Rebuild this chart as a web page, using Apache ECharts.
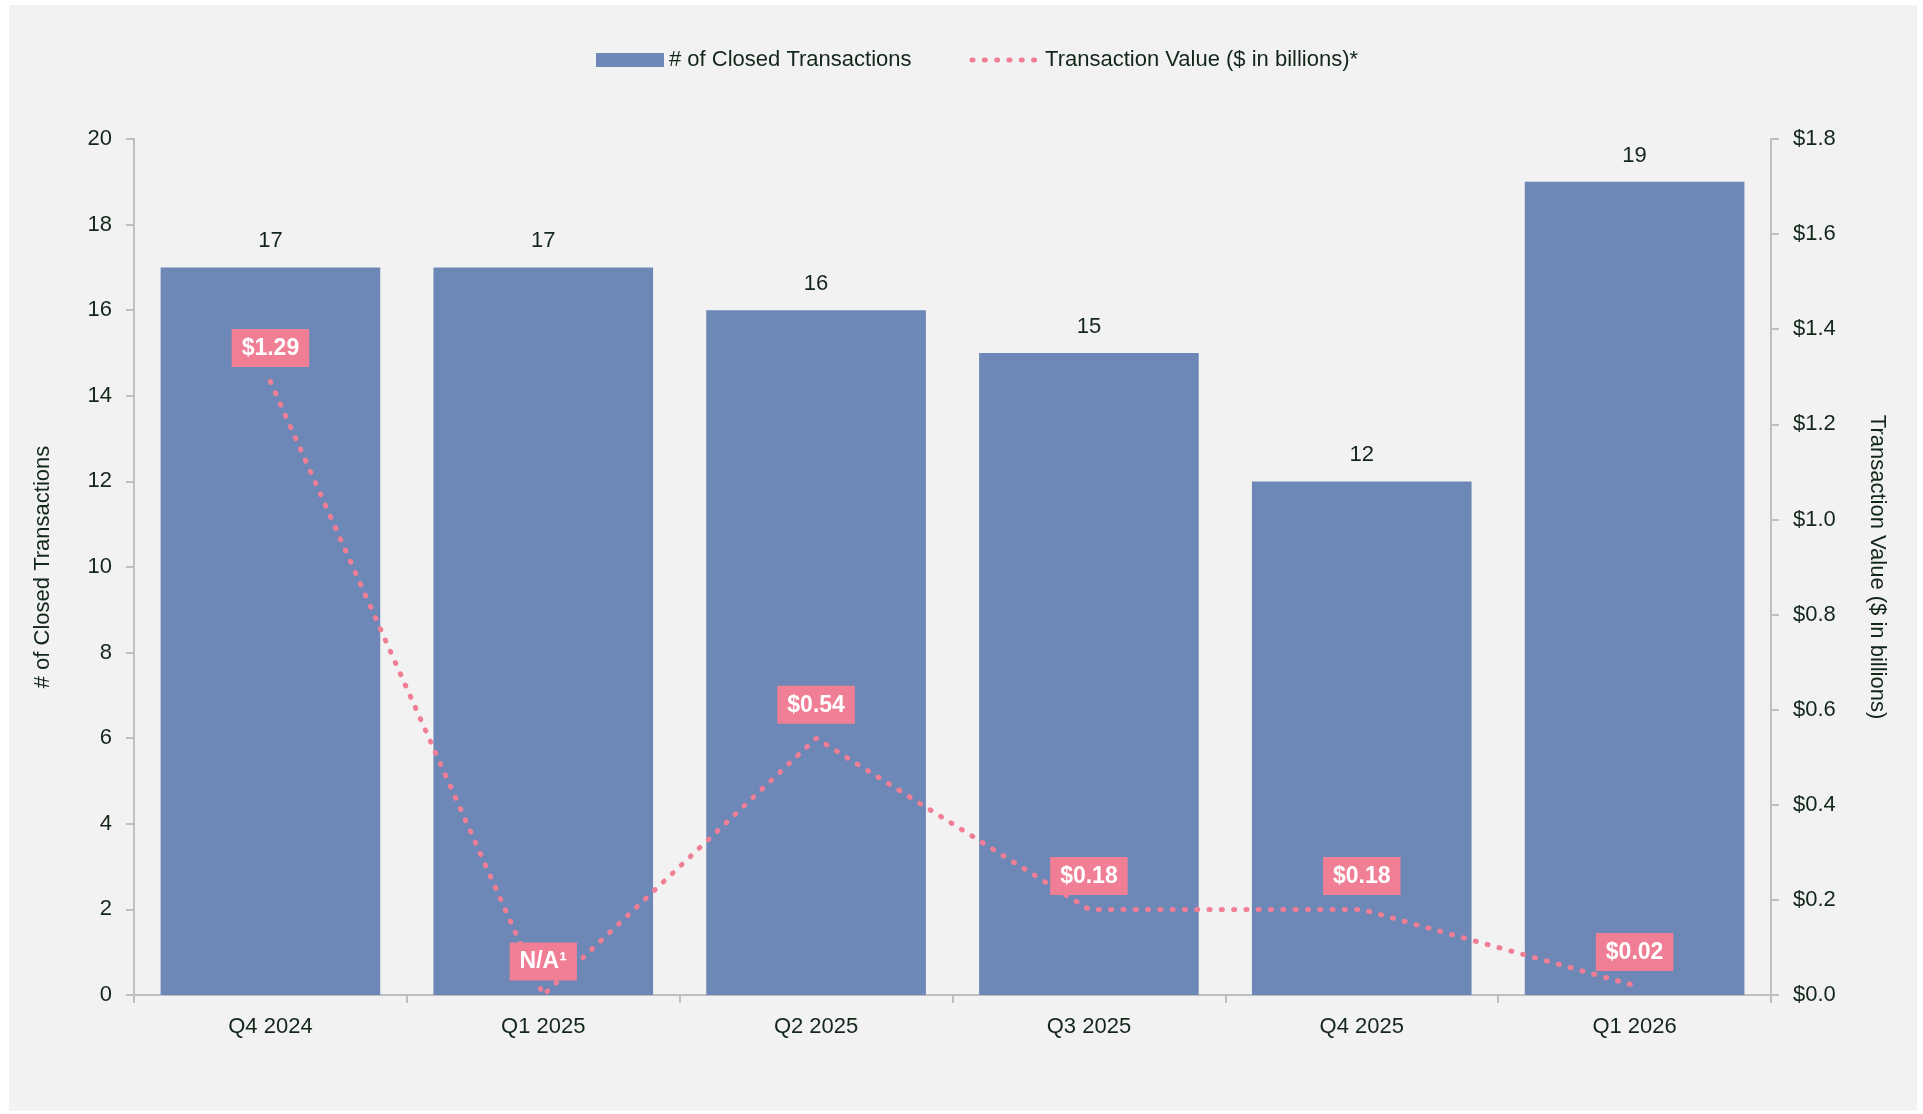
<!DOCTYPE html>
<html>
<head>
<meta charset="utf-8">
<script src="https://cdn.jsdelivr.net/npm/echarts@6/dist/echarts.min.js"></script>
<style>
  html, body { margin: 0; padding: 0; background: #ffffff; }
  #main { width: 1923px; height: 1114px; }
</style>
</head>
<body>
<div id="main"></div>
<script>
// data
var quarters = ['Q4 2024', 'Q1 2025', 'Q2 2025', 'Q3 2025', 'Q4 2025', 'Q1 2026'];
var closedCount = [17, 17, 16, 15, 12, 19];
var dealValue = [1.29, 0, 0.54, 0.18, 0.18, 0.02]; // Q1 2025 is N/A, drawn at 0
var naIndex = 1;

var FONT = "'Liberation Sans Narrow', 'Arial Narrow', 'Liberation Sans', sans-serif";
var TXT = '#13261a';
var AXIS = '#bfbfbf';
var BAR = '#6d87b7';
var PINK = '#f07f95';
var FS = 22;
var dots = { color: PINK, width: 5, type: [1, 11.3], cap: 'round' };

var chart = echarts.init(document.getElementById('main'));

var option = {
  backgroundColor: '#ffffff',
  textStyle: { fontFamily: FONT, color: TXT },
  graphic: [{
    type: 'rect',
    z: -10,
    shape: { x: 9, y: 5, width: 1908, height: 1106 },
    style: { fill: '#f2f2f2' }
  }],
  legend: {
    top: 44,
    left: 591,
    itemWidth: 68,
    itemHeight: 14,
    itemGap: 58,
    textStyle: { fontFamily: FONT, fontSize: FS, color: TXT },
    data: [
      { name: '# of Closed Transactions', icon: 'rect' },
      { name: 'Transaction Value ($ in billions)*', itemStyle: { opacity: 0 }, lineStyle: dots }
    ]
  },
  grid: { left: 134, right: 152, top: 139, bottom: 119 },
  xAxis: {
    type: 'category',
    data: quarters,
    axisLine: { lineStyle: { color: AXIS, width: 2 } },
    axisTick: { show: true, length: 8, lineStyle: { color: AXIS, width: 2 } },
    axisLabel: { fontSize: FS, color: TXT, margin: 21, fontFamily: FONT }
  },
  yAxis: [{
    type: 'value',
    min: 0, max: 20, interval: 2,
    name: '# of Closed Transactions',
    nameLocation: 'middle',
    nameGap: 80,
    nameRotate: 90,
    nameTextStyle: { fontSize: FS, color: TXT, fontFamily: FONT },
    axisLine: { show: true, lineStyle: { color: AXIS, width: 2 } },
    axisTick: { show: true, length: 8, lineStyle: { color: AXIS, width: 2 } },
    splitLine: { show: false },
    axisLabel: { fontSize: FS, color: TXT, margin: 22, fontFamily: FONT }
  }, {
    type: 'value',
    position: 'right',
    min: 0, max: 1.8, interval: 0.2,
    name: 'Transaction Value ($ in billions)',
    nameLocation: 'middle',
    nameGap: 95,
    nameRotate: -90,
    nameTextStyle: { fontSize: FS, color: TXT, fontFamily: FONT },
    axisLine: { show: true, lineStyle: { color: AXIS, width: 2 } },
    axisTick: { show: true, length: 8, lineStyle: { color: AXIS, width: 2 } },
    splitLine: { show: false },
    axisLabel: {
      fontSize: FS, color: TXT, margin: 22, fontFamily: FONT,
      formatter: function (v) { return '$' + v.toFixed(1); }
    }
  }],
  series: [{
    name: '# of Closed Transactions',
    type: 'bar',
    data: closedCount,
    barCategoryGap: '19.5%',
    itemStyle: { color: BAR },
    label: {
      show: true,
      position: 'top',
      distance: 15,
      fontSize: FS,
      color: TXT,
      fontFamily: FONT
    }
  }, {
    name: 'Transaction Value ($ in billions)*',
    type: 'line',
    yAxisIndex: 1,
    data: dealValue,
    z: 5,
    symbol: 'circle',
    symbolSize: 1,
    itemStyle: { color: 'transparent' },
    lineStyle: dots,
    label: {
      show: true,
      position: 'top',
      distance: 14,
      fontSize: 23,
      fontWeight: 'bold',
      color: '#ffffff',
      fontFamily: FONT,
      backgroundColor: PINK,
      padding: [8, 10, 7, 10],
      formatter: function (p) {
        if (p.dataIndex === naIndex) return 'N/A\u00b9';
        return '$' + p.value.toFixed(2);
      }
    },
    labelLayout: { hideOverlap: false }
  }]
};

chart.setOption(option);
</script>
</body>
</html>
